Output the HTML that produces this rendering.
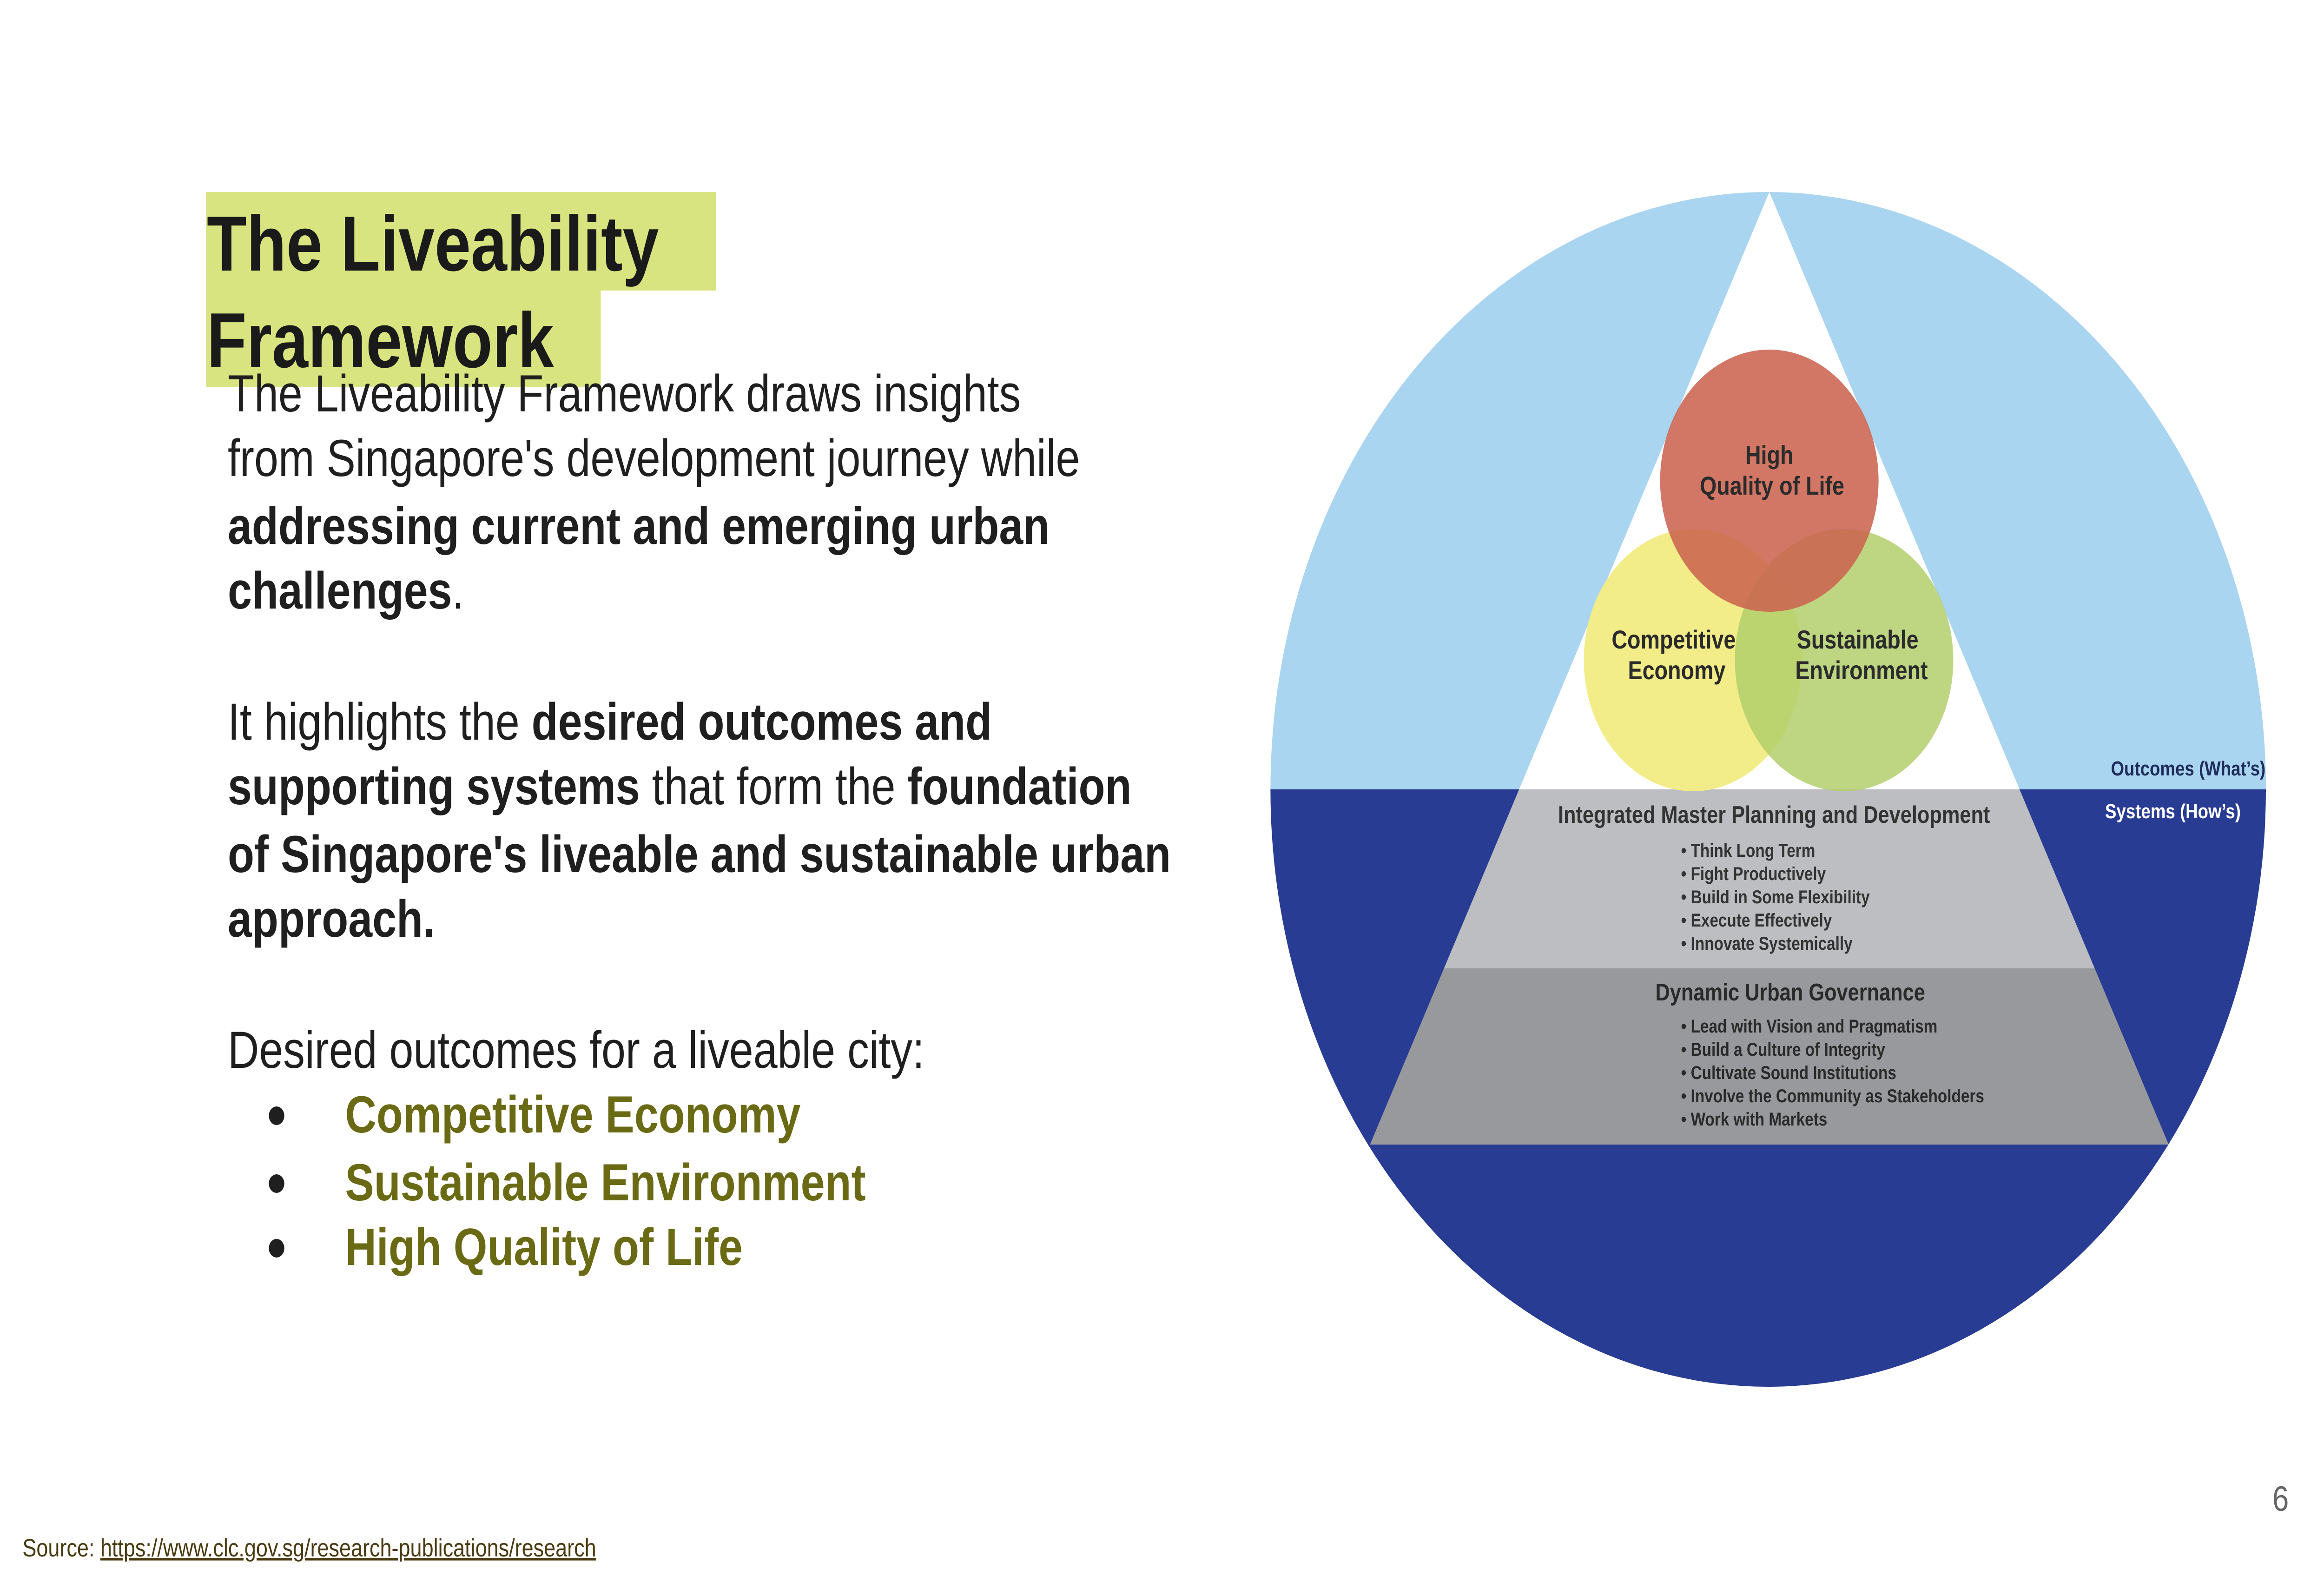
<!DOCTYPE html>
<html><head><meta charset="utf-8"><style>
html,body{margin:0;padding:0;background:#fff;width:100%;height:100%;overflow:hidden;}
svg{display:block;width:100vw;height:100vh;}
text{font-family:"Liberation Sans",sans-serif;}
</style></head><body>
<svg viewBox="0 0 6000 3375" preserveAspectRatio="none">
<defs>
<clipPath id="top"><rect x="0" y="0" width="6000" height="1698"/></clipPath>
<clipPath id="bot"><rect x="0" y="1698" width="6000" height="2000"/></clipPath>
</defs>
<rect width="6000" height="3375" fill="#ffffff"/>
<g>
<rect x="532" y="413" width="1316" height="212" fill="#d8e47f"/>
<rect x="532" y="625" width="1019" height="208" fill="#d8e47f"/>
<text x="534" y="582" font-size="168" font-weight="bold" fill="#1a1a1a">The Liveability</text>
<text x="534" y="790" font-size="168" font-weight="bold" fill="#1a1a1a">Framework</text>
</g>
<g font-size="112" fill="#1f1f1f">
<text x="588" y="885">The Liveability Framework draws insights</text>
<text x="588" y="1024">from Singapore's development journey while</text>
<text x="588" y="1170" font-weight="bold">addressing current and emerging urban</text>
<text x="588" y="1309"><tspan font-weight="bold">challenges</tspan>.</text>
<text x="588" y="1591">It highlights the <tspan font-weight="bold">desired outcomes and</tspan></text>
<text x="588" y="1730"><tspan font-weight="bold">supporting systems</tspan> that form the <tspan font-weight="bold">foundation</tspan></text>
<text x="588" y="1876" font-weight="bold">of Singapore's liveable and sustainable urban</text>
<text x="588" y="2015" font-weight="bold">approach.</text>
<text x="588" y="2297">Desired outcomes for a liveable city:</text>
</g>
<g font-size="112" font-weight="bold" fill="#6a6a14">
<circle cx="714" cy="2400" r="20" fill="#1f1f1f"/><text x="891" y="2436">Competitive Economy</text>
<circle cx="714" cy="2546" r="20" fill="#1f1f1f"/><text x="891" y="2582">Sustainable Environment</text>
<circle cx="714" cy="2685" r="20" fill="#1f1f1f"/><text x="891" y="2721">High Quality of Life</text>
</g>
<g>
<circle cx="4565" cy="1698" r="1285" fill="#aad5f0" clip-path="url(#top)"/>
<circle cx="4565" cy="1698" r="1285" fill="#283c93" clip-path="url(#bot)"/>
<polygon points="4568,413 5214,1698 3922,1698" fill="#ffffff"/>
<polygon points="3922,1698 5214,1698 5408,2083 3728,2083" fill="#bdbec1"/>
<polygon points="3728,2083 5408,2083 5599,2462 3537,2462" fill="#98999c"/>
<circle cx="4371" cy="1420" r="282" fill="#f2ed88"/>
<circle cx="4761" cy="1420" r="282" fill="#b3cf6c" opacity="0.85"/>
<circle cx="4568" cy="1034" r="282" fill="#cc6450" opacity="0.88"/>
<g font-size="56" font-weight="bold" fill="#2b2b2b" text-anchor="middle">
<text x="4568" y="998">High</text>
<text x="4575" y="1064">Quality of Life</text>
<text x="4321" y="1395">Competitive</text>
<text x="4329" y="1461">Economy</text>
<text x="4796" y="1395">Sustainable</text>
<text x="4806" y="1461">Environment</text>
</g>
<text x="5849" y="1668" font-size="44" font-weight="bold" fill="#1e2d5a" text-anchor="end">Outcomes (What’s)</text>
<text x="5610" y="1760" font-size="44" font-weight="bold" fill="#ffffff" text-anchor="middle">Systems (How’s)</text>
<text x="4580" y="1770" font-size="52" font-weight="bold" fill="#333" text-anchor="middle">Integrated Master Planning and Development</text>
<g font-size="40" font-weight="bold" fill="#333">
<text x="4340" y="1843">• Think Long Term</text>
<text x="4340" y="1893">• Fight Productively</text>
<text x="4340" y="1943">• Build in Some Flexibility</text>
<text x="4340" y="1993">• Execute Effectively</text>
<text x="4340" y="2043">• Innovate Systemically</text>
</g>
<text x="4622" y="2152" font-size="52" font-weight="bold" fill="#2a2a2a" text-anchor="middle">Dynamic Urban Governance</text>
<g font-size="40" font-weight="bold" fill="#2a2a2a">
<text x="4340" y="2221">• Lead with Vision and Pragmatism</text>
<text x="4340" y="2271">• Build a Culture of Integrity</text>
<text x="4340" y="2321">• Cultivate Sound Institutions</text>
<text x="4340" y="2371">• Involve the Community as Stakeholders</text>
<text x="4340" y="2421">• Work with Markets</text>
</g>
</g>
<text x="5888" y="3250" font-size="76" fill="#666" text-anchor="middle">6</text>
<text x="58" y="3348" font-size="54" fill="#4a3a10">Source: <tspan text-decoration="underline">https://www.clc.gov.sg/research-publications/research</tspan></text>
</svg>
</body></html>
